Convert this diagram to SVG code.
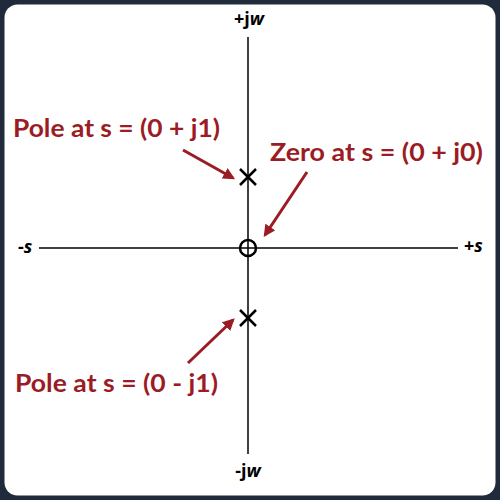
<svg xmlns="http://www.w3.org/2000/svg" width="500" height="500" viewBox="0 0 500 500">
<style>
.axis{stroke:#000;stroke-width:1.5;fill:none}
.mark{stroke:#000;stroke-width:2.5;fill:none}
.conn{stroke:#9b1c24;stroke-width:3;fill:none}
.lbl{font-family:Lato,"Open Sans","Liberation Sans",sans-serif;font-weight:700;fill:#9b1c24;font-size:24px}
.ax{font-family:"Open Sans","Liberation Sans",sans-serif;font-weight:700;fill:#000;font-size:18px}
</style>
<defs>
<marker id="ah" markerWidth="4" markerHeight="4" refX="3.2" refY="2" orient="auto" markerUnits="strokeWidth">
<path d="M0,0 L4,2 L0,4 Z" fill="#9b1c24"/>
</marker>
</defs>
<rect x="0" y="0" width="500" height="500" fill="#1f2b3b"/>
<rect x="4.5" y="4.5" width="491" height="491" rx="13" fill="#fff"/>
<g id="axes">
<line class="axis" x1="248" y1="37" x2="248" y2="454"/>
<line class="axis" x1="39" y1="248" x2="458" y2="248"/>
<text class="ax" x="249" y="25" text-anchor="middle">+j<tspan font-style="italic">w</tspan></text>
<text class="ax" x="248" y="477" text-anchor="middle">-j<tspan font-style="italic">w</tspan></text>
<text class="ax" x="18" y="253">-<tspan font-style="italic">s</tspan></text>
<text class="ax" x="464" y="252">+<tspan font-style="italic">s</tspan></text>
</g>
<g id="pole1">
<path class="mark" d="M240,169 L256,185 M256,169 L240,185"/>
</g>
<g id="zero">
<circle class="mark" cx="248" cy="248" r="8"/>
</g>
<g id="pole2">
<path class="mark" d="M240,310 L256,326 M256,310 L240,326"/>
</g>
<g id="connectors">
<line class="conn" x1="183" y1="150" x2="233" y2="178" marker-end="url(#ah)"/>
<line class="conn" x1="307" y1="172" x2="265" y2="235" marker-end="url(#ah)"/>
<line class="conn" x1="188" y1="363" x2="233" y2="320" marker-end="url(#ah)"/>
</g>
<g id="labels">
<text class="lbl" x="13" y="137" textLength="207" lengthAdjust="spacingAndGlyphs">Pole at s = (0 + j1)</text>
<text class="lbl" x="270" y="161" textLength="213" lengthAdjust="spacingAndGlyphs">Zero at s = (0 + j0)</text>
<text class="lbl" x="15" y="392" textLength="203" lengthAdjust="spacingAndGlyphs">Pole at s = (0 - j1)</text>
</g>
</svg>
